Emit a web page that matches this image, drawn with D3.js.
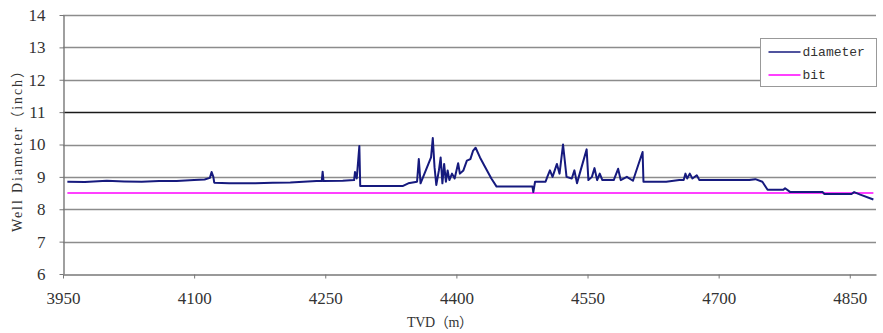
<!DOCTYPE html>
<html>
<head>
<meta charset="utf-8">
<script src="https://cdn.jsdelivr.net/npm/d3@7"></script>
<style>
  body { margin: 0; background: #fff; }
  svg { display: block; }
  .tick text { font-family: "Liberation Serif", "DejaVu Serif", serif; font-size: 17px; fill: #333; }
</style>
</head>
<body>
<svg id="chart" width="883" height="333"></svg>
<script>
// depth (m) of each diameter reading
const depth = [
  3955, 3975, 4000, 4020, 4040, 4060, 4080, 4100, 4112, 4118, 4120, 4122, 4123,
  4140, 4170, 4190, 4210, 4240, 4246, 4247, 4248, 4270, 4283, 4284, 4286, 4289, 4290,
  4339, 4345, 4355, 4357, 4359, 4362, 4365, 4368, 4371, 4373, 4375, 4377, 4380, 4382,
  4384, 4386, 4388, 4390, 4392, 4395, 4398, 4402, 4404, 4408, 4412, 4416, 4419, 4422,
  4427, 4433, 4440, 4446, 4487, 4488, 4490, 4502, 4504, 4507, 4510, 4515, 4518, 4522,
  4526, 4532, 4535, 4538, 4540, 4549, 4551, 4555, 4558, 4561, 4564, 4567, 4580, 4585,
  4588, 4595, 4602, 4613, 4614, 4640, 4655, 4660, 4662, 4664, 4667, 4670, 4675, 4678,
  4700, 4735, 4742, 4750, 4756, 4774, 4776, 4782, 4819, 4821, 4852, 4855, 4862, 4877
];
// well diameter (inch)
const diameter = [
  8.85, 8.84, 8.88, 8.86, 8.85, 8.87, 8.87, 8.9, 8.92, 8.97, 9.15, 9.0, 8.82,
  8.8, 8.8, 8.82, 8.83, 8.87, 8.87, 9.16, 8.87, 8.88, 8.9, 9.15, 8.95, 9.95, 8.72,
  8.72, 8.8, 8.85, 9.55, 8.8, 9.0, 9.2, 9.4, 9.6, 10.2, 9.3, 8.75, 9.2, 9.6,
  8.8, 9.4, 8.85, 9.2, 8.9, 9.1, 8.95, 9.42, 9.1, 9.2, 9.5, 9.55, 9.8, 9.9,
  9.6, 9.3, 8.95, 8.7, 8.7, 8.53, 8.85, 8.85, 9.0, 9.2, 9.0, 9.4, 9.1, 10.0,
  9.0, 8.95, 9.2, 8.8, 9.0, 9.85, 8.9, 9.0, 9.27, 8.9, 9.1, 8.9, 8.9, 9.25,
  8.9, 9.0, 8.88, 9.77, 8.85, 8.85, 8.9, 8.9, 9.1, 8.95, 9.1, 8.95, 9.05, 8.9,
  8.9, 8.9, 8.93, 8.85, 8.6, 8.6, 8.65, 8.53, 8.53, 8.47, 8.47, 8.53, 8.45, 8.3
];
// bit size (inch)
const bitDepth = [3955, 4877];
const bitSize = [8.5, 8.5];

const xTicks = [3950, 4100, 4250, 4400, 4550, 4700, 4850];
const yTicks = [6, 7, 8, 9, 10, 11, 12, 13, 14];
const seriesNames = ['diameter', 'bit'];
const seriesColors = ['#161a7e', '#ff00ff'];

const svg = d3.select('#chart');
const margin = { top: 15, right: 7, bottom: 59, left: 63 };
const width = 883 - margin.left - margin.right;
const height = 333 - margin.top - margin.bottom;

const grp = svg.append('g')
  .attr('transform', 'translate(' + margin.left + ',' + margin.top + ')');

const xScale = d3.scaleLinear().domain([3950, 4880]).range([0, width]);
const yScale = d3.scaleLinear().domain([6, 14]).range([height, 0]);

// horizontal grid
grp.selectAll('.grid')
  .data(yTicks.slice(1))
  .enter()
  .append('line')
  .attr('x1', 0)
  .attr('x2', width)
  .attr('y1', d => Math.round(yScale(d)) + 0.5)
  .attr('y2', d => Math.round(yScale(d)) + 0.5)
  .attr('stroke', d => d === 11 ? '#1a1a1a' : '#8c8c8c')
  .attr('stroke-width', d => d === 11 ? 1.6 : 1.3);

const xAxis = grp.append('g')
  .attr('transform', 'translate(0,' + (Math.round(height) + 0.5) + ')')
  .call(d3.axisBottom(xScale).tickValues(xTicks).tickFormat(d3.format('d'))
    .tickSize(4).tickPadding(13).tickSizeOuter(0));
xAxis.select('.domain').attr('stroke', '#777').attr('stroke-width', 1.4);
xAxis.selectAll('.tick line').attr('stroke', '#777');

const yAxis = grp.append('g')
  .attr('transform', 'translate(0.5,0)')
  .call(d3.axisLeft(yScale).tickValues(yTicks).tickSize(4).tickPadding(14).tickSizeOuter(0));
yAxis.select('.domain').attr('stroke', '#777').attr('stroke-width', 1.4);
yAxis.selectAll('.tick line').attr('stroke', '#777');

const bitData = bitDepth.map((d, i) => ({ x: d, y: bitSize[i] }));
const diaData = depth.map((d, i) => ({ x: d, y: diameter[i] }));

const line = d3.line().x(d => xScale(d.x)).y(d => yScale(d.y));

grp.append('path')
  .datum(bitData)
  .attr('fill', 'none')
  .attr('stroke', seriesColors[1])
  .attr('stroke-width', 1.5)
  .attr('d', line);

grp.append('path')
  .datum(diaData)
  .attr('fill', 'none')
  .attr('stroke', seriesColors[0])
  .attr('stroke-width', 2)
  .attr('stroke-linejoin', 'round')
  .attr('d', line);

// legend
const legend = svg.append('g').attr('transform', 'translate(760.5,38.5)');
legend.append('rect')
  .attr('width', 116)
  .attr('height', 48)
  .attr('fill', '#fff')
  .attr('stroke', '#999');
seriesNames.forEach((name, i) => {
  const y = 13.5 + i * 23;
  legend.append('line')
    .attr('x1', 8).attr('x2', 40)
    .attr('y1', y).attr('y2', y)
    .attr('stroke', seriesColors[i])
    .attr('stroke-width', 1.6);
  legend.append('text')
    .attr('x', 42)
    .attr('y', y + 4)
    .attr('font-family', '"Liberation Mono", "DejaVu Sans Mono", monospace')
    .attr('font-size', 13)
    .attr('fill', '#333')
    .text(name);
});

// axis titles
svg.append('text')
  .attr('x', 440)
  .attr('y', 327)
  .attr('text-anchor', 'middle')
  .attr('font-family', '"Liberation Serif", "Noto Sans CJK SC", serif')
  .attr('font-size', 14)
  .attr('fill', '#333')
  .attr('textLength', 66)
  .attr('lengthAdjust', 'spacing')
  .text('TVD（m）');

svg.append('text')
  .attr('transform', 'translate(22,148) rotate(-90)')
  .attr('text-anchor', 'middle')
  .attr('font-family', '"Liberation Serif", "Noto Sans CJK SC", serif')
  .attr('font-size', 14)
  .attr('fill', '#333')
  .attr('textLength', 168)
  .attr('lengthAdjust', 'spacing')
  .text('Well Diameter（inch）');
</script>
</body>
</html>
